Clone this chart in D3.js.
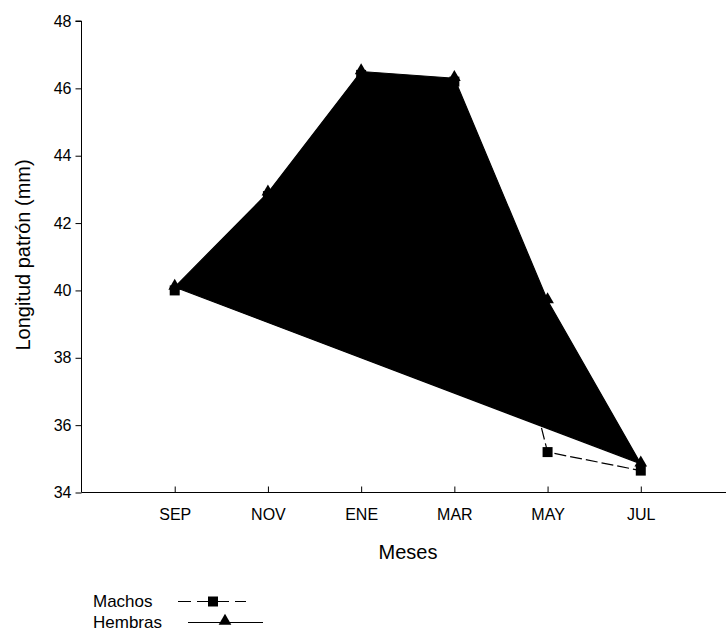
<!DOCTYPE html>
<html>
<head>
<meta charset="utf-8">
<script src="https://cdn.jsdelivr.net/npm/d3@7"></script>
<style>
  body { margin: 0; background: #fff; }
  text { font-family: "Liberation Sans", Arial, sans-serif; fill: #000; }
</style>
</head>
<body>
<svg id="chart" width="726" height="631"></svg>
<script>
// data
var months = ["SEP", "NOV", "ENE", "MAR", "MAY", "JUL"];
var machos = [40.0, 42.8, 46.4, 46.2, 35.2, 34.65];
var hembras = [40.1, 42.9, 46.5, 46.3, 39.7, 34.85];
var yTicks = [34, 36, 38, 40, 42, 44, 46, 48];

var svg = d3.select("#chart");
var plotLeft = 81.5, plotTop = 21, plotBottom = 492.5, plotRight = 726;

var x = d3.scaleLinear().domain([0, 7]).range([plotLeft, 734]);
var y = d3.scaleLinear().domain([34, 48]).range([plotBottom, plotTop]);

// axes
var yAxis = d3.axisLeft(y).tickValues(yTicks).tickSize(6).tickPadding(4);
var gy = svg.append("g").attr("transform", "translate(" + plotLeft + ",0)").call(yAxis);
gy.select(".domain").attr("d", "M-6," + y(48) + "H0V" + plotBottom);
gy.selectAll("text").style("font-size", "16px");

var xAxis = d3.axisBottom(x).tickValues(d3.range(1, 7))
  .tickFormat(function(d) { return months[d - 1]; })
  .tickSizeInner(-6).tickSizeOuter(0).tickPadding(16);
var gx = svg.append("g").attr("transform", "translate(0," + plotBottom + ")").call(xAxis);
gx.select(".domain").attr("d", "M" + plotLeft + ",0H" + plotRight);
gx.selectAll("text").style("font-size", "16px");

// axis titles
svg.append("text")
  .attr("transform", "translate(30,255) rotate(-90)")
  .attr("text-anchor", "middle")
  .style("font-size", "20px")
  .text("Longitud patrón (mm)");
svg.append("text")
  .attr("x", 408).attr("y", 559)
  .attr("text-anchor", "middle")
  .style("font-size", "20px")
  .text("Meses");

var line = d3.line()
  .x(function(d, i) { return x(i + 1); })
  .y(function(d) { return y(d); });

// hembras: filled polygon
svg.append("path")
  .attr("d", line(hembras) + "Z")
  .attr("fill", "#000")
  .attr("stroke", "#000")
  .attr("stroke-width", 1.2);

// machos dashed line
svg.append("path")
  .attr("d", line(machos))
  .attr("fill", "none")
  .attr("stroke", "#000")
  .attr("stroke-width", 1.2)
  .attr("stroke-dasharray", "12,4");

var sq = d3.symbol().type(d3.symbolSquare).size(100);
var tri = d3.symbol().type(d3.symbolTriangle).size(70);

svg.selectAll(".m").data(machos).enter().append("path")
  .attr("class", "m")
  .attr("transform", function(d, i) { return "translate(" + x(i + 1) + "," + y(d) + ")"; })
  .attr("d", sq);
svg.selectAll(".h").data(hembras).enter().append("path")
  .attr("class", "h")
  .attr("transform", function(d, i) { return "translate(" + x(i + 1) + "," + (y(d) - 1) + ")"; })
  .attr("d", tri);

// legend
svg.append("text").attr("x", 93).attr("y", 607).style("font-size", "17px").text("Machos");
svg.append("text").attr("x", 93).attr("y", 628).style("font-size", "17px").text("Hembras");
svg.append("line").attr("x1", 178).attr("x2", 246).attr("y1", 601.5).attr("y2", 601.5)
  .attr("stroke", "#000").attr("stroke-dasharray", "13,6");
svg.append("path").attr("transform", "translate(213,601.5)").attr("d", sq);
svg.append("line").attr("x1", 188).attr("x2", 263).attr("y1", 622.5).attr("y2", 622.5)
  .attr("stroke", "#000");
svg.append("path").attr("transform", "translate(225,621)").attr("d", tri);
</script>
</body>
</html>
